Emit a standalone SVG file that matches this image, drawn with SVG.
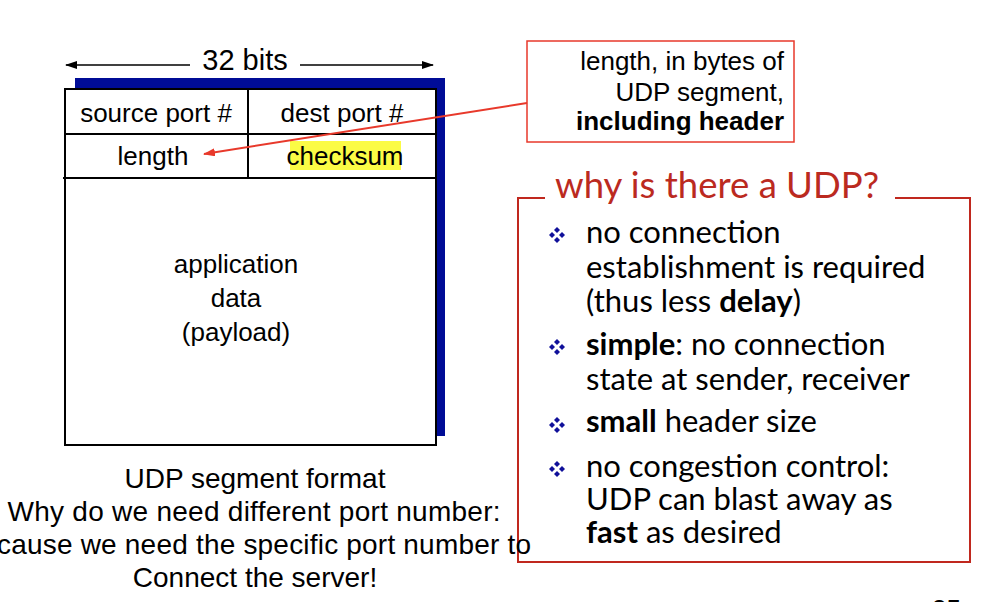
<svg xmlns="http://www.w3.org/2000/svg" width="998" height="602" viewBox="0 0 998 602">
<style>
.t{font-family:"Liberation Sans",Arial,sans-serif;fill:#000;font-size:26px}
.b{font-family:"Liberation Sans",Arial,sans-serif;fill:#000;font-size:28px}
.g{font-family:Lato,"Open Sans",sans-serif;fill:#000;font-size:31px}
.bold{font-weight:bold}
.cell{fill:none;stroke:#000;stroke-width:2}
</style>
<defs>
<marker id="ah" markerWidth="12" markerHeight="8" refX="11" refY="4" orient="auto" markerUnits="userSpaceOnUse"><path d="M0,0 L12,4 L0,8 z" fill="#000"/></marker>
<marker id="ahr" markerWidth="12" markerHeight="8" refX="11" refY="4" orient="auto" markerUnits="userSpaceOnUse"><path d="M0,0 L12,4 L0,8 z" fill="#e8392b"/></marker>
<g id="bul" fill="#10109a">
<path d="M0,-8 L3,-5 L0,-2 L-3,-5 Z"/>
<path d="M0,2 L3,5 L0,8 L-3,5 Z"/>
<path d="M-5,-3 L-2,0 L-5,3 L-8,0 Z"/>
<path d="M5,-3 L8,0 L5,3 L2,0 Z"/>
</g>
</defs>
<rect width="998" height="602" fill="#fff"/>

<g id="segment">
<rect x="75" y="78" width="370" height="358" fill="#000c96"/>
<rect x="65" y="89" width="371" height="356" fill="#fff" stroke="#000" stroke-width="2"/>
<line class="cell" x1="65" y1="134" x2="436" y2="134"/>
<line class="cell" x1="63" y1="178" x2="436" y2="178"/>
<line class="cell" x1="248" y1="89" x2="248" y2="178"/>
</g>
<g id="source-port"><text class="t" x="156" y="122" text-anchor="middle">source port #</text></g>
<g id="dest-port"><text class="t" x="342" y="122" text-anchor="middle">dest port #</text></g>
<g id="length"><text class="t" x="153" y="165" text-anchor="middle">length</text></g>
<g id="checksum">
<rect x="290" y="141" width="111" height="29" fill="#fbfb45"/>
<text class="t" x="345" y="165" text-anchor="middle">checksum</text>
</g>
<g id="payload">
<text class="t" x="236" y="273" text-anchor="middle">application</text>
<text class="t" x="236" y="307" text-anchor="middle">data</text>
<text class="t" x="236" y="341" text-anchor="middle">(payload)</text>
</g>
<g id="bits-label"><text class="t" x="245" y="70" text-anchor="middle" style="font-size:29px">32 bits</text></g>

<g id="callout">
<rect x="527" y="41" width="267" height="101" fill="#fff" stroke="#e8392b" stroke-width="1.5"/>
<text class="t" x="784" y="70" text-anchor="end">length, in bytes of</text>
<text class="t" x="784" y="101" text-anchor="end">UDP segment,</text>
<text class="t bold" x="784" y="130" text-anchor="end">including header</text>
</g>

<g id="connectors">
<line x1="190" y1="65" x2="66" y2="65" stroke="#000" stroke-width="1.5" marker-end="url(#ah)"/>
<line x1="300" y1="65" x2="433" y2="65" stroke="#000" stroke-width="1.5" marker-end="url(#ah)"/>
<line x1="527" y1="103" x2="204" y2="154" stroke="#e8392b" stroke-width="2" marker-end="url(#ahr)"/>
</g>

<g id="why-udp">
<path d="M545,198 H518 V562 H970 V198 H895" fill="none" stroke="#c0281e" stroke-width="2"/>
<text x="555" y="198" font-family="Lato,'Open Sans',sans-serif" font-size="36.5" fill="#bb2a1f">why is there a UDP?</text>
<use href="#bul" x="557" y="235"/>
<use href="#bul" x="557" y="347"/>
<use href="#bul" x="557" y="425"/>
<use href="#bul" x="557" y="469"/>
<text class="g" x="586" y="243">no connection</text>
<text class="g" x="586" y="278">establishment is required</text>
<text class="g" x="586" y="312">(thus less <tspan class="bold">delay</tspan>)</text>
<text class="g" x="586" y="355"><tspan class="bold">simple</tspan>: no connection</text>
<text class="g" x="586" y="390">state at sender, receiver</text>
<text class="g" x="586" y="432"><tspan class="bold">small</tspan> header size</text>
<text class="g" x="586" y="477">no congestion control:</text>
<text class="g" x="586" y="510">UDP can blast away as</text>
<text class="g" x="586" y="543"><tspan class="bold">fast</tspan> as desired</text>
</g>

<g id="caption">
<text class="b" x="255" y="488" text-anchor="middle">UDP segment format</text>
<text class="b" x="254" y="521" text-anchor="middle" textLength="493">Why do we need different port number:</text>
<text class="b" x="-3" y="554" textLength="534">cause we need the specific port number to</text>
<text class="b" x="255" y="587" text-anchor="middle">Connect the server!</text>
</g>
<g id="page-number"><text class="t" x="932" y="618">35</text></g>
</svg>
